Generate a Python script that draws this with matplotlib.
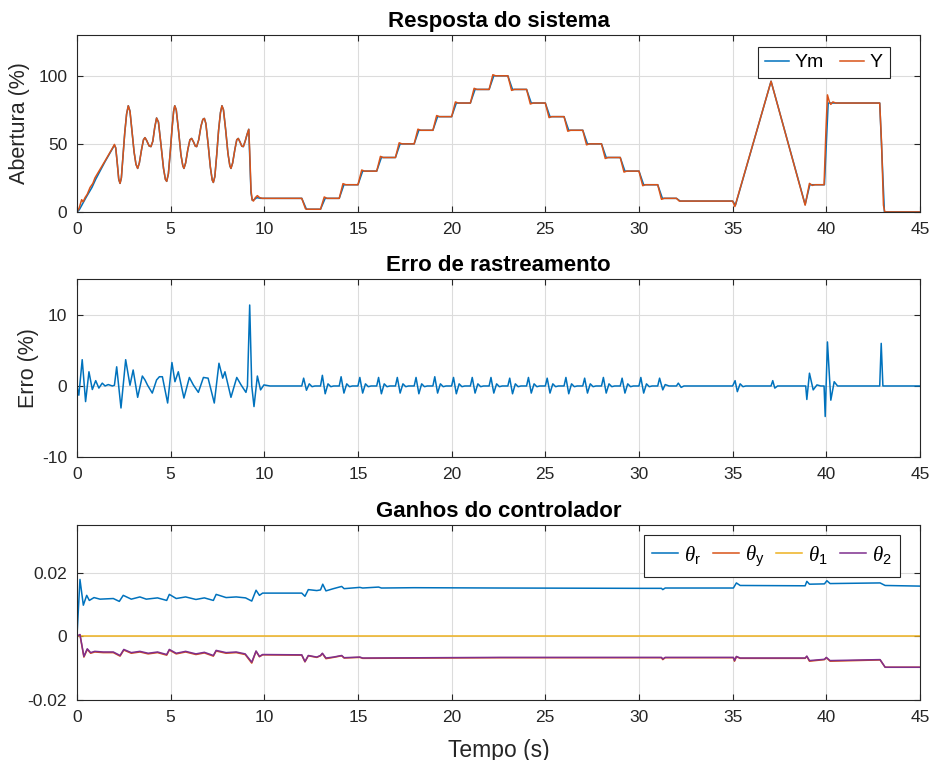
import matplotlib
matplotlib.use("Agg")
from matplotlib import pyplot as plt

plt.rcParams['font.family'] = ['Liberation Sans', 'DejaVu Sans']
plt.rcParams['axes.unicode_minus'] = False
plt.rcParams['mathtext.fontset'] = 'custom'
plt.rcParams['mathtext.it'] = 'Liberation Serif:italic'
plt.rcParams['mathtext.rm'] = 'Liberation Sans'

# ---- data ----
x_ticks = [0, 5, 10, 15, 20, 25, 30, 35, 40, 45]

# system response, reference model output (Ym)
ym_pts = [(0, 0), (0.12, 1.5), (0.3, 6), (0.5, 11), (0.8, 18), (1.0, 24), (1.5, 37), (1.9, 46.5), (2.0, 49),
          (2.07, 47), (2.15, 36), (2.23, 24), (2.3, 21), (2.37, 25), (2.45, 40), (2.55, 58), (2.65, 72), (2.74, 78),
          (2.83, 74), (2.93, 60), (3.05, 44), (3.15, 35), (3.24, 32), (3.33, 36), (3.45, 46), (3.55, 53), (3.63, 54.6),
          (3.72, 52.5), (3.85, 48.5), (3.95, 48), (4.05, 52), (4.15, 62), (4.25, 69), (4.35, 66), (4.48, 50),
          (4.62, 32), (4.72, 24), (4.79, 22.5), (4.88, 28), (4.98, 44), (5.08, 62), (5.16, 74), (5.22, 78),
          (5.3, 75), (5.42, 60), (5.55, 42), (5.65, 34), (5.71, 32), (5.8, 36), (5.92, 46), (6.03, 53), (6.12, 54),
          (6.22, 51.5), (6.32, 48.3), (6.39, 48), (6.5, 53), (6.62, 63), (6.72, 68), (6.8, 68.7), (6.88, 65),
          (7.0, 50), (7.12, 33), (7.22, 23.5), (7.28, 21.7), (7.36, 26), (7.46, 42), (7.56, 60), (7.66, 73),
          (7.74, 78), (7.82, 75), (7.94, 60), (8.06, 43), (8.16, 34), (8.22, 32), (8.31, 36), (8.43, 46),
          (8.53, 53), (8.61, 54), (8.7, 51.5), (8.8, 48.3), (8.88, 48), (8.98, 52), (9.08, 57), (9.17, 60.7),
          (9.22, 42), (9.29, 14), (9.36, 8.5), (9.45, 9), (9.6, 10.5), (9.8, 10),
          (12.0, 10), (12.25, 2), (13.0, 2), (13.25, 10), (14.0, 10), (14.25, 20), (15.0, 20), (15.25, 30),
          (16.0, 30), (16.25, 40), (17.0, 40), (17.25, 50), (18.0, 50), (18.25, 60), (19.0, 60), (19.25, 70),
          (20.0, 70), (20.25, 80), (21.0, 80), (21.25, 90), (22.0, 90), (22.25, 100), (23.0, 100), (23.25, 90),
          (24.0, 90), (24.25, 80), (25.0, 80), (25.25, 70), (26.0, 70), (26.25, 60), (27.0, 60), (27.25, 50),
          (28.0, 50), (28.25, 40), (29.0, 40), (29.25, 30), (30.0, 30), (30.25, 20), (31.0, 20), (31.25, 10),
          (32.0, 10), (32.2, 8), (35.0, 8), (35.15, 5), (37.05, 96), (38.87, 5.5), (39.12, 20), (39.9, 20),
          (40.1, 80), (42.85, 80), (43.1, 0), (45, 0)]

# system response, plant output (Y)
y_pts = [(0, 0), (0.12, 3), (0.25, 9), (0.33, 7.5), (0.43, 10.5), (0.55, 13), (0.7, 18), (0.85, 21),
         (0.96, 25), (1.5, 37.5), (1.9, 47), (2.0, 49.6),
         (2.07, 47), (2.15, 36), (2.23, 24), (2.3, 21), (2.37, 25), (2.45, 40), (2.55, 58), (2.65, 72), (2.74, 78),
         (2.83, 74), (2.93, 60), (3.05, 44), (3.15, 35), (3.24, 32), (3.33, 36), (3.45, 46), (3.55, 53), (3.63, 54.6),
         (3.72, 52.5), (3.85, 48.5), (3.95, 48), (4.05, 52), (4.15, 62), (4.25, 69), (4.35, 66), (4.48, 50),
         (4.62, 32), (4.72, 24), (4.79, 22.5), (4.88, 28), (4.98, 44), (5.08, 62), (5.16, 74), (5.22, 78),
         (5.3, 75), (5.42, 60), (5.55, 42), (5.65, 34), (5.71, 32), (5.8, 36), (5.92, 46), (6.03, 53), (6.12, 54),
         (6.22, 51.5), (6.32, 48.3), (6.39, 48), (6.5, 53), (6.62, 63), (6.72, 68), (6.8, 68.7), (6.88, 65),
         (7.0, 50), (7.12, 33), (7.22, 23.5), (7.28, 21.7), (7.36, 26), (7.46, 42), (7.56, 60), (7.66, 73),
         (7.74, 78), (7.82, 75), (7.94, 60), (8.06, 43), (8.16, 34), (8.22, 32), (8.31, 36), (8.43, 46),
         (8.53, 53), (8.61, 54), (8.7, 51.5), (8.8, 48.3), (8.88, 48), (8.98, 52), (9.08, 57), (9.17, 60.7),
         (9.22, 45), (9.29, 16), (9.35, 9), (9.42, 8), (9.52, 10.5), (9.63, 12), (9.75, 10.5), (9.9, 10),
         (12.0, 10), (12.2, 2.3), (12.3, 2), (13.0, 2), (13.2, 11), (13.35, 10),
         (14.0, 10), (14.2, 20.8), (14.35, 20), (15.0, 20), (15.2, 30.8), (15.35, 30),
         (16.0, 30), (16.2, 40.8), (16.35, 40), (17.0, 40), (17.2, 50.8), (17.35, 50),
         (18.0, 50), (18.2, 60.8), (18.35, 60), (19.0, 60), (19.2, 70.8), (19.35, 70),
         (20.0, 70), (20.2, 80.8), (20.35, 80), (21.0, 80), (21.2, 90.8), (21.35, 90),
         (22.0, 90), (22.2, 100.8), (22.35, 100), (23.0, 100), (23.2, 89.3), (23.35, 90),
         (24.0, 90), (24.2, 79.3), (24.35, 80), (25.0, 80), (25.2, 69.3), (25.35, 70),
         (26.0, 70), (26.2, 59.3), (26.35, 60), (27.0, 60), (27.2, 49.3), (27.35, 50),
         (28.0, 50), (28.2, 39.3), (28.35, 40), (29.0, 40), (29.2, 29.3), (29.35, 30),
         (30.0, 30), (30.2, 19.3), (30.35, 20), (31.0, 20), (31.2, 9.3), (31.35, 10),
         (32.0, 10), (32.15, 8), (35.0, 8), (35.12, 4), (37.05, 96), (38.87, 5), (39.0, 14), (39.1, 21),
         (39.25, 19.5), (39.4, 20), (39.88, 20), (39.98, 60), (40.06, 86), (40.16, 81), (40.24, 79),
         (40.35, 80.8), (40.5, 80), (42.85, 80), (42.95, 50), (43.05, 5), (43.12, 0), (45, 0)]

# tracking error (%)
err_pts = [(0, 0), (0.1, -1.3), (0.28, 3.7), (0.46, -2.2), (0.64, 2.0), (0.82, -0.5), (1.0, 0.75), (1.17, -0.3),
           (1.35, 0.4), (1.5, 0), (1.67, 0.2), (1.89, 0), (2.0, 0.1), (2.12, 2.7), (2.35, -3.1), (2.6, 3.7),
           (2.83, 0.1), (3.0, 2.25), (3.24, -1.6), (3.49, 1.4), (3.63, 0.85), (3.77, 0.1), (4.02, -1.0),
           (4.25, 0.85), (4.4, 1.3), (4.56, 1.3), (4.84, -2.4), (5.07, 3.3), (5.23, 0.6), (5.41, 2.0),
           (5.71, -1.7), (6.0, 1.2), (6.21, 0.15), (6.48, -0.9), (6.75, 1.2), (7.0, 1.1), (7.33, -2.4),
           (7.58, 3.2), (7.78, 1.1), (7.9, 2.0), (8.22, -1.6), (8.53, 1.2), (8.76, 0.15), (9.02, -0.9),
           (9.1, 0), (9.22, 11.4), (9.33, 0), (9.45, -2.9), (9.63, 1.4), (9.8, -0.55), (9.98, 0.15), (10.3, 0),
           (12.0, 0), (12.1, 1.1), (12.25, -0.6), (12.4, 0.3), (12.55, -0.1), (12.7, 0),
           (13.0, 0), (13.1, 1.5), (13.25, -1.1), (13.4, 0.3), (13.55, -0.1), (13.7, 0),
           (14.0, 0), (14.1, 1.3), (14.25, -1.0), (14.4, 0.3), (14.55, -0.1), (14.7, 0),
           (15.0, 0), (15.1, 1.2), (15.25, -1.0), (15.4, 0.3), (15.55, -0.1), (15.7, 0),
           (16.0, 0), (16.1, 1.2), (16.25, -1.1), (16.4, 0.3), (16.55, -0.1), (16.7, 0),
           (17.0, 0), (17.1, 1.2), (17.25, -1.0), (17.4, 0.3), (17.55, -0.1), (17.7, 0),
           (18.0, 0), (18.1, 1.2), (18.25, -1.1), (18.4, 0.3), (18.55, -0.1), (18.7, 0),
           (19.0, 0), (19.1, 1.3), (19.25, -1.0), (19.4, 0.3), (19.55, -0.1), (19.7, 0),
           (20.0, 0), (20.1, 1.2), (20.25, -1.1), (20.4, 0.3), (20.55, -0.1), (20.7, 0),
           (21.0, 0), (21.1, 1.2), (21.25, -1.0), (21.4, 0.3), (21.55, -0.1), (21.7, 0),
           (22.0, 0), (22.1, 1.2), (22.25, -1.0), (22.4, 0.3), (22.55, -0.1), (22.7, 0),
           (23.0, 0), (23.1, 1.1), (23.25, -1.1), (23.4, 0.3), (23.55, -0.1), (23.7, 0),
           (24.0, 0), (24.1, 1.2), (24.25, -1.0), (24.4, 0.3), (24.55, -0.1), (24.7, 0),
           (25.0, 0), (25.1, 1.1), (25.25, -1.0), (25.4, 0.3), (25.55, -0.1), (25.7, 0),
           (26.0, 0), (26.1, 1.2), (26.25, -1.1), (26.4, 0.3), (26.55, -0.1), (26.7, 0),
           (27.0, 0), (27.1, 1.1), (27.25, -1.0), (27.4, 0.3), (27.55, -0.1), (27.7, 0),
           (28.0, 0), (28.1, 1.2), (28.25, -1.0), (28.4, 0.3), (28.55, -0.1), (28.7, 0),
           (29.0, 0), (29.1, 1.1), (29.25, -1.0), (29.4, 0.3), (29.55, -0.1), (29.7, 0),
           (30.0, 0), (30.1, 1.2), (30.25, -1.0), (30.4, 0.3), (30.55, -0.1), (30.7, 0),
           (31.0, 0), (31.1, 1.1), (31.27, -0.55), (31.4, 0.2), (31.6, 0),
           (32.0, 0), (32.1, 0.4), (32.25, -0.2), (32.4, 0), (35.0, 0), (35.13, 0.75), (35.25, -0.8),
           (35.4, 0.3), (35.55, -0.1), (35.7, 0), (37.05, 0), (37.14, 0.75), (37.25, -0.3), (37.4, 0),
           (38.9, 0), (38.96, -1.9), (39.1, 1.8), (39.3, -0.55), (39.5, 0.15), (39.7, 0), (39.88, 0),
           (39.94, -4.3), (40.06, 6.2), (40.24, -2.0), (40.42, 0.6), (40.6, 0), (42.85, 0), (42.93, 6.0),
           (43.02, 0), (45, 0)]

# controller gains
theta_r_pts = [(0, 0), (0.16, 0.0179), (0.34, 0.0098), (0.52, 0.0129), (0.66, 0.0113), (0.91, 0.0122),
               (1.23, 0.0117), (1.94, 0.0119), (2.26, 0.011), (2.47, 0.0129), (2.9, 0.0117), (3.36, 0.0124),
               (3.7, 0.0117), (4.3, 0.0121), (4.79, 0.0113), (4.93, 0.0132), (5.3, 0.0119), (5.8, 0.0124),
               (6.35, 0.0116), (6.8, 0.0121), (7.28, 0.0113), (7.43, 0.0132), (7.96, 0.0122), (8.5, 0.0124),
               (9.0, 0.0121), (9.33, 0.0111), (9.56, 0.0145), (9.74, 0.0129), (9.91, 0.0136), (12.0, 0.0136),
               (12.17, 0.0126), (12.35, 0.0147), (12.8, 0.0144), (13.0, 0.0146), (13.12, 0.0164),
               (13.29, 0.0143), (13.69, 0.015), (14.13, 0.0157), (14.26, 0.015), (15.1, 0.0154),
               (15.25, 0.0152), (16.1, 0.0155), (16.25, 0.0152), (18.0, 0.0153), (22.6, 0.0152),
               (30.0, 0.0151), (31.2, 0.0151), (31.27, 0.0147), (31.4, 0.0152), (35.04, 0.0152),
               (35.2, 0.0168), (35.4, 0.016), (38.87, 0.0159), (38.96, 0.0173), (39.1, 0.0164),
               (39.9, 0.0165), (40.03, 0.0175), (40.2, 0.0166), (42.87, 0.0168), (43.14, 0.016), (45, 0.0158)]
theta_y_pts = [(0, 0), (0.16, 0.0005), (0.37, -0.0065), (0.55, -0.0041), (0.73, -0.0053), (0.95, -0.0049),
               (1.4, -0.0051), (1.94, -0.0051), (2.3, -0.0062), (2.5, -0.0043), (2.9, -0.0053),
               (3.36, -0.0049), (3.8, -0.0055), (4.3, -0.0051), (4.79, -0.0059), (4.93, -0.0043),
               (5.3, -0.0055), (5.8, -0.0049), (6.35, -0.0057), (6.8, -0.0052), (7.28, -0.0062),
               (7.43, -0.0046), (7.96, -0.0053), (8.5, -0.0051), (8.98, -0.0057), (9.33, -0.0084),
               (9.56, -0.0047), (9.74, -0.0064), (9.91, -0.0058), (12.0, -0.0059), (12.17, -0.008),
               (12.35, -0.0061), (12.8, -0.0066), (13.0, -0.0061), (13.1, -0.0054), (13.29, -0.007),
               (13.69, -0.0066), (14.13, -0.0061), (14.26, -0.0068), (15.1, -0.0066), (15.25, -0.0069),
               (22.6, -0.0067), (31.2, -0.0067), (31.27, -0.0073), (31.4, -0.0067), (35.04, -0.0067),
               (35.1, -0.0078), (35.2, -0.0064), (35.4, -0.0069), (38.87, -0.0069), (38.96, -0.0063),
               (39.1, -0.0078), (39.9, -0.0073), (40.0, -0.0067), (40.2, -0.0078), (42.87, -0.0074),
               (43.14, -0.0097), (45, -0.0097)]
theta_1_pts = [(0, 0), (45, 0)]
theta_2_pts = [(0, 0), (0.16, 0.0006), (0.37, -0.0063), (0.55, -0.0039), (0.73, -0.0051), (0.95, -0.0047),
               (1.4, -0.0049), (1.94, -0.0049), (2.3, -0.006), (2.5, -0.0041), (2.9, -0.0051),
               (3.36, -0.0047), (3.8, -0.0053), (4.3, -0.0049), (4.79, -0.0057), (4.93, -0.0041),
               (5.3, -0.0053), (5.8, -0.0047), (6.35, -0.0055), (6.8, -0.005), (7.28, -0.006),
               (7.43, -0.0044), (7.96, -0.0051), (8.5, -0.0049), (8.98, -0.0055), (9.33, -0.0081),
               (9.56, -0.0046), (9.74, -0.0063), (9.91, -0.0057), (12.0, -0.0058), (12.17, -0.0079),
               (12.35, -0.006), (12.8, -0.0065), (13.0, -0.006), (13.1, -0.0053), (13.29, -0.0068),
               (13.69, -0.0065), (14.13, -0.006), (14.26, -0.0067), (15.1, -0.0065), (15.25, -0.0068),
               (22.6, -0.0066), (31.2, -0.0066), (31.27, -0.0071), (31.4, -0.0066), (35.04, -0.0066),
               (35.1, -0.0076), (35.2, -0.0063), (35.4, -0.0068), (38.87, -0.0068), (38.96, -0.0062),
               (39.1, -0.0076), (39.9, -0.0072), (40.0, -0.0066), (40.2, -0.0076), (42.87, -0.0073),
               (43.14, -0.0097), (45, -0.0097)]

# MATLAB default colours
c_blue, c_red, c_yel, c_pur = '#0072BD', '#D95319', '#EDB120', '#7E2F8E'
dark = '#262626'


def style(ax, ylim, yticks, ylabels):
    ax.set_xlim(0, 45)
    ax.set_ylim(*ylim)
    ax.set_xticks(x_ticks)
    ax.set_yticks(yticks)
    ax.set_yticklabels(ylabels)
    ax.grid(True, color='#dcdcdc', linewidth=0.8)
    ax.set_axisbelow(True)
    ax.tick_params(direction='in', top=True, right=True, length=4, width=0.8,
                   colors=dark, labelsize=12.5, pad=7)
    for s in ax.spines.values():
        s.set_color(dark)
        s.set_linewidth(0.8)


def xy(pts):
    return [p[0] for p in pts], [p[1] for p in pts]


fig = plt.figure(figsize=(9.34, 7.6), dpi=100)
left, width = 0.0824, 0.9026
title_kw = dict(fontsize=16, fontweight='bold', pad=6)

# --- system response ---
ax1 = fig.add_axes([left, 0.7211, width, 0.2329])
ax1.plot(*xy(ym_pts), color=c_blue, lw=1.1, label='Ym')
ax1.plot(*xy(y_pts), color=c_red, lw=1.1, label='Y')
style(ax1, (0, 130), [0, 50, 100], ['0', '50', '100'])
ax1.set_ylabel('Abertura (%)', fontsize=15.5, color=dark, labelpad=6)
ax1.set_title('Resposta do sistema', **title_kw)
leg = ax1.legend(loc='upper right', bbox_to_anchor=(0.964, 0.932), ncol=2, fontsize=14,
                 fancybox=False, edgecolor=dark, framealpha=1, handlelength=1.25,
                 columnspacing=0.8, handletextpad=0.3, borderpad=0.35, borderaxespad=0)
leg.get_frame().set_linewidth(0.8)

# --- tracking error ---
ax2 = fig.add_axes([left, 0.3987, width, 0.2336])
ax2.plot(*xy(err_pts), color=c_blue, lw=1.1)
style(ax2, (-10, 15), [-10, 0, 10], ['-10', '0', '10'])
ax2.set_ylabel('Erro (%)', fontsize=15.5, color=dark, labelpad=2)
ax2.set_title('Erro de rastreamento', **title_kw)

# --- controller gains ---
ax3 = fig.add_axes([left, 0.0789, width, 0.2303])
ax3.plot(*xy(theta_r_pts), color=c_blue, lw=1.1, label=r'$\theta_{\mathrm{r}}$')
ax3.plot(*xy(theta_y_pts), color=c_red, lw=1.1, label=r'$\theta_{\mathrm{y}}$')
ax3.plot(*xy(theta_1_pts), color=c_yel, lw=1.1, label=r'$\theta_{\mathrm{1}}$')
ax3.plot(*xy(theta_2_pts), color=c_pur, lw=1.1, label=r'$\theta_{\mathrm{2}}$')
style(ax3, (-0.02, 0.035), [-0.02, 0, 0.02], ['-0.02', '0', '0.02'])
ax3.set_title('Ganhos do controlador', **title_kw)
ax3.set_xlabel('Tempo (s)', fontsize=16.5, color=dark, labelpad=10)
leg3 = ax3.legend(loc='upper right', bbox_to_anchor=(0.976, 0.943), ncol=4, fontsize=15,
                  fancybox=False, edgecolor=dark, framealpha=1, handlelength=1.25,
                  columnspacing=0.55, handletextpad=0.3, borderpad=0.4, borderaxespad=0)
leg3.get_frame().set_linewidth(0.8)

fig.savefig('out.png', dpi=100)
